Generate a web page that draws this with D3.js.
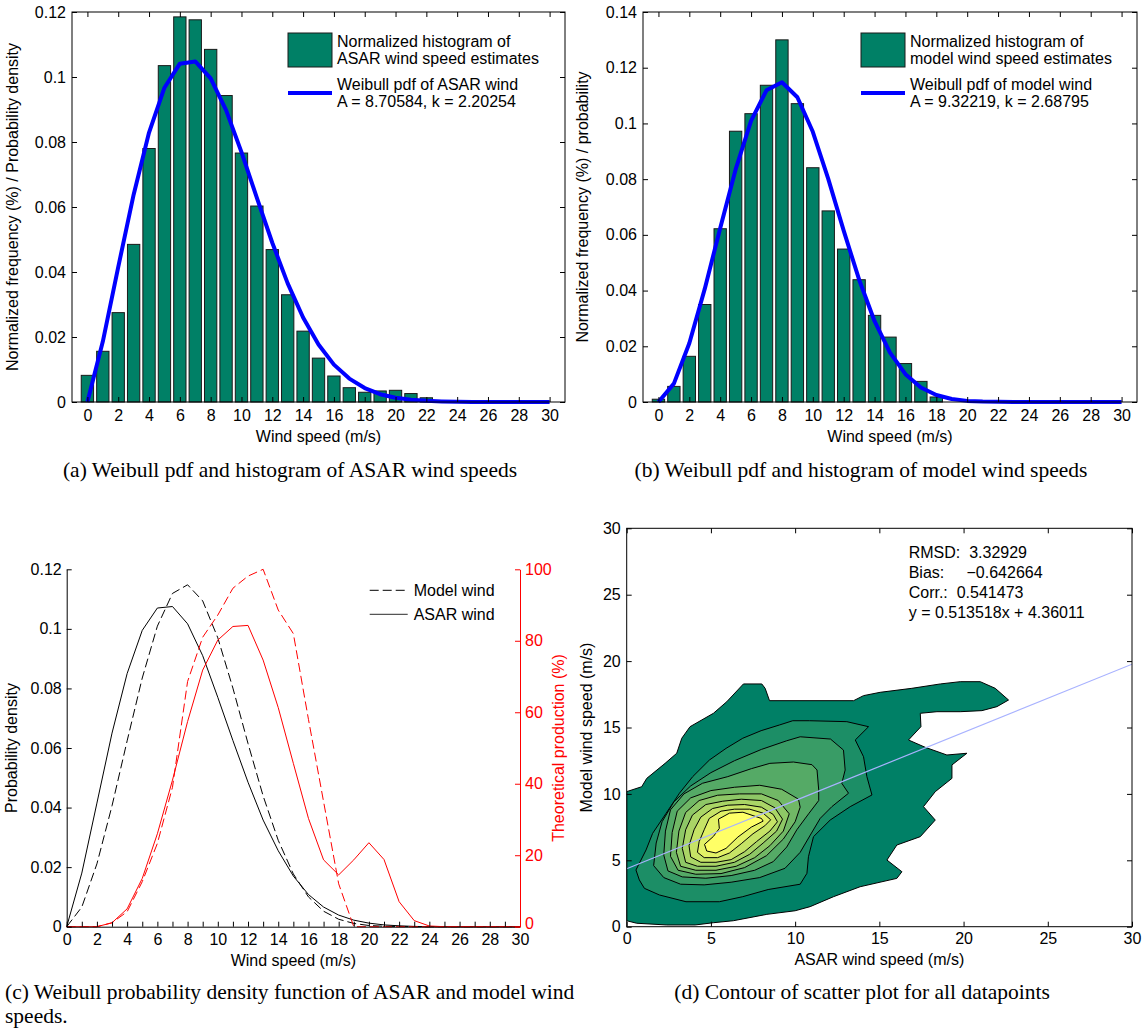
<!DOCTYPE html>
<html>
<head>
<meta charset="utf-8">
<script src="https://cdn.jsdelivr.net/npm/d3@7"></script>
<style>
body { margin: 0; background: #fff; }
svg text { font-family: "Liberation Sans", Arial, sans-serif; font-size: 16px; fill: #000; }
svg text.cap { font-family: "Liberation Serif", "Times New Roman", serif; font-size: 21.5px; }
</style>
</head>
<body>
<svg id="fig" width="1145" height="1032"></svg>
<script>
// ---- data ----
const speeds = d3.range(0, 31);

// (a) ASAR
const asarHist = [0.0082, 0.0156, 0.0275, 0.0485, 0.078, 0.1035, 0.1185, 0.1176, 0.1085, 0.0943, 0.0766, 0.0603,
  0.0469, 0.033, 0.0218, 0.0135, 0.008, 0.0044, 0.003, 0.0034, 0.0036, 0.0026, 0.0013];
const asarPdf = [0, 0.0186, 0.0415, 0.0638, 0.0829, 0.0967, 0.1041, 0.1048, 0.0996, 0.0898, 0.0769, 0.0628, 0.049,
  0.0365, 0.026, 0.0177, 0.0115, 0.0072, 0.0043, 0.0024, 0.0013, 0.0007, 0.00035, 0.00016, 0.00007, 0.00003, 0, 0, 0, 0, 0];

// (b) model
const modelHist = [0.001, 0.0056, 0.0164, 0.035, 0.0622, 0.0972, 0.1035, 0.1137, 0.13, 0.1071, 0.0841, 0.0686,
  0.0549, 0.0439, 0.0311, 0.0233, 0.0138, 0.0074, 0.0018];
const modelPdf = [0, 0.0066, 0.0211, 0.0406, 0.0624, 0.0835, 0.1009, 0.1119, 0.1148, 0.1094, 0.097, 0.0801, 0.0615,
  0.0439, 0.029, 0.0177, 0.01, 0.0052, 0.0025, 0.0011, 0.0004, 0.00016, 0.00005, 0, 0, 0, 0, 0, 0, 0, 0];

// (c) pdfs and theoretical production (%)
const asarPdfC = [0, 0.018, 0.0415, 0.065, 0.085, 0.0995, 0.107, 0.1075, 0.1017, 0.091, 0.077, 0.0625, 0.0485,
  0.0358, 0.0255, 0.017, 0.0108, 0.0066, 0.0039, 0.0022, 0.0012, 0.0006, 0.0003, 0.0001, 0, 0, 0, 0, 0, 0, 0];
const asarProd = [0, 0, 0, 1.1, 5, 13.5, 26, 41, 57.4, 71.8, 80.2, 84, 84.3, 74.6, 61.3, 45.7, 30.3, 18.7, 14.5,
  18.7, 23.5, 18.8, 7, 1.7, 0.2, 0, 0, 0, 0, 0, 0];
const modelProd = [0, 0, 0, 1.1, 4.2, 12.6, 23.3, 39, 68.6, 81, 87.2, 94.7, 98.1, 100, 88.6, 82, 58, 35, 12,
  0, 0, 0, 0, 0, 0, 0, 0, 0, 0, 0, 0];

// (d) filled contour levels, outer to inner, [ASAR, model] pairs
const contourLevels = [
  [[0,0.45],[0,10.17],[0.89,10.54],[1.19,11.17],[2.28,12.3],[2.97,13.06],[3.27,14.19],[3.76,15.06],[5.15,16.07],
   [5.94,16.94],[6.93,18.28],[8.02,18.28],[8.22,17.95],[8.48,17.02],[13.47,17.02],[14.06,17.4],[15.05,17.65],
   [16.93,17.95],[18.62,18.28],[19.8,18.45],[20.99,18.45],[21.88,17.95],[22.67,17.07],[21.98,16.57],[21.09,16.27],
   [19.8,16.19],[18.42,16.19],[17.43,16.07],[17.47,15.06],[16.73,14.06],[17.72,13.51],[19.01,12.93],[20.2,13.06],
   [19.31,12.18],[19.31,11.17],[18.32,10.17],[17.62,9.04],[18.32,8.03],[17.43,6.78],[16.04,6.15],[15.45,5.02],
   [16.34,4.14],[16.04,3.64],[13.86,3.01],[12.28,2.26],[10.89,1.51],[10,1.2],[8.32,0.93],[6.33,0.45],[5.15,0.3],
   [4.06,0.13],[2.38,0.13],[0.59,0.26]],
  [[0.55,4.27],[1.15,5.78],[1.54,7.03],[2.34,8.54],[3.13,10.05],[3.92,11.3],[4.91,12.55],[5.9,13.43],[6.89,14.19],
   [7.98,14.76],[9.07,15.19],[9.86,15.51],[10.85,15.51],[13.07,15.44],[14.36,15.06],[13.57,14.06],[14.06,12.8],
   [14.26,11.3],[14.56,9.92],[13.27,9.04],[12.08,8.03],[11.09,6.78],[10.79,5.27],[10.7,4.02],[10.3,3.2],[8.4,2.8],
   [6.89,2.26],[5.5,1.88],[3.52,1.88],[1.94,2.39],[1.05,2.89],[0.75,3.52]],
  [[1.6,4.6],[1.75,6.3],[2.1,7.9],[2.8,9.4],[3.8,10.6],[5.0,11.6],[6.4,12.5],[8.0,13.35],[9.5,14.0],[10.3,14.3],
   [12.1,14.13],[12.87,13.3],[12.97,11.8],[12.77,10.8],[13.17,10.05],[12.18,9.04],[11.49,8.16],[10.9,6.9],
   [10.3,5.6],[9.4,4.4],[7.9,3.7],[6.2,3.35],[4.6,3.15],[3.2,3.2],[2.2,3.7]],
  [[2.2,5.4],[2.3,7.2],[2.6,8.8],[3.4,10.0],[4.5,10.8],[6.0,11.3],[7.4,11.9],[8.5,12.3],[9.9,12.4],[11.0,12.2],
   [11.3,11.8],[11.4,10.3],[11.4,9.5],[10.8,8.5],[10.1,7.3],[9.5,6.0],[8.7,4.9],[7.6,4.25],[6.2,3.85],[4.7,3.65],
   [3.3,3.75],[2.45,4.2]],
  [[2.6,5.3],[2.7,7.1],[3.0,8.7],[3.8,9.7],[5.0,10.25],[6.4,10.5],[7.9,10.65],[9.2,10.35],[10.2,9.6],[10.3,9.0],
   [10.0,7.9],[9.3,6.6],[8.3,5.35],[7.0,4.45],[5.6,4.0],[4.1,3.95],[3.05,4.25]],
  [[2.95,5.6],[3.1,7.2],[3.5,8.6],[4.3,9.5],[5.4,9.9],[6.7,10.0],[8.0,10.0],[9.0,9.5],[9.65,8.5],[9.3,7.2],
   [8.5,6.1],[7.6,5.2],[6.5,4.55],[5.3,4.25],[4.1,4.25],[3.2,4.55]],
  [[3.3,5.9],[3.5,7.3],[3.9,8.4],[4.7,9.2],[5.7,9.45],[6.8,9.6],[8.0,9.5],[8.8,8.95],[9.25,8.1],[8.9,7.2],
   [8.1,6.3],[7.3,5.45],[6.4,4.85],[5.3,4.55],[4.2,4.55],[3.5,4.85]],
  [[3.7,6.1],[4.0,7.3],[4.4,8.25],[5.1,8.9],[6.0,9.15],[7.0,9.2],[8.0,9.0],[8.7,8.45],[8.95,7.9],[8.5,7.2],
   [7.7,6.4],[7.0,5.65],[6.2,5.05],[5.3,4.85],[4.4,4.85],[3.8,5.25]],
  [[4.2,5.6],[4.3,6.4],[4.6,7.3],[4.9,8.15],[5.6,8.7],[6.4,8.85],[7.3,8.85],[8.1,8.55],[8.55,8.05],[8.2,7.6],
   [7.5,7.0],[6.8,6.25],[6.1,5.55],[5.4,5.2],[4.6,5.2]],
  [[4.62,6.2],[5.15,6.8],[5.5,7.4],[5.45,8.1],[6.1,8.55],[6.9,8.62],[8.0,8.15],[8.1,7.95],[7.4,7.5],[6.6,6.75],
   [5.9,5.9],[5.3,5.55],[4.75,5.7]]
];
const fitSlope = 0.513518, fitIntercept = 4.36011;
const statsLines = ["RMSD:  3.32929", "Bias:     \u22120.642664", "Corr.:  0.541473", "y = 0.513518x + 4.36011"];

const histColor = "#008066";
const summer = d3.interpolateRgb("#008066", "#ffff66");

const svg = d3.select("#fig");

// axes with inward ticks; box adds top/right ticks and frame
function axes(g, x, y, w, h, xt, yt, xf, yf, box, xpad) {
  g.append("g").attr("transform", `translate(0,${h})`)
    .call(d3.axisBottom(x).tickValues(xt).tickFormat(xf).tickSizeInner(-5).tickSizeOuter(0).tickPadding(xpad || 8))
    .call(a => a.select(".domain").remove());
  g.append("g")
    .call(d3.axisLeft(y).tickValues(yt).tickFormat(yf).tickSizeInner(-5).tickSizeOuter(0).tickPadding(6))
    .call(a => a.select(".domain").remove());
  if (box) {
    g.append("g").call(d3.axisTop(x).tickValues(xt).tickFormat("").tickSizeInner(-5).tickSizeOuter(0))
      .call(a => a.select(".domain").remove());
    g.append("g").attr("transform", `translate(${w},0)`)
      .call(d3.axisRight(y).tickValues(yt).tickFormat("").tickSizeInner(-5).tickSizeOuter(0))
      .call(a => a.select(".domain").remove());
    g.append("rect").attr("width", w).attr("height", h).attr("fill", "none").attr("stroke", "#000");
  }
  g.selectAll(".tick line").attr("stroke", "#000");
}

const fmtY = d => String(+d.toFixed(2));

// histogram panel
function histPanel(pos, hist, pdf, yMax, yStep, yLabel, legendLines) {
  const g = svg.append("g").attr("transform", `translate(${pos.left},${pos.top})`);
  const x = d3.scaleLinear().domain([-1, 31]).range([0, pos.w]);
  const y = d3.scaleLinear().domain([0, yMax]).range([pos.h, 0]);

  g.append("g").selectAll("rect").data(hist).join("rect")
    .attr("x", (d, i) => x(speeds[i] - 0.4))
    .attr("width", x(0.8) - x(0))
    .attr("y", d => y(d))
    .attr("height", d => y(0) - y(d))
    .attr("fill", histColor).attr("stroke", "#1a1a1a").attr("stroke-width", 1);

  g.append("path").datum(pdf)
    .attr("d", d3.line().x((d, i) => x(speeds[i])).y(d => y(d)))
    .attr("fill", "none").attr("stroke", "#0000ff").attr("stroke-width", 4).attr("stroke-linejoin", "round");

  const yt = d3.range(0, yMax + 1e-9, yStep);
  axes(g, x, y, pos.w, pos.h, d3.range(0, 31, 2), yt, d => d, fmtY, true);

  g.append("text").attr("x", pos.w / 2).attr("y", pos.h + 40).attr("text-anchor", "middle").text("Wind speed (m/s)");
  g.append("text").attr("transform", `translate(${pos.ylabX},${pos.h / 2}) rotate(-90)`)
    .attr("text-anchor", "middle").text(yLabel);

  // legend
  const lg = g.append("g").attr("transform", `translate(${pos.legX},0)`);
  lg.append("rect").attr("x", 0).attr("y", 21).attr("width", 44).attr("height", 34)
    .attr("fill", histColor).attr("stroke", "#1a1a1a");
  lg.append("line").attr("x1", 0).attr("x2", 44).attr("y1", 81).attr("y2", 81)
    .attr("stroke", "#0000ff").attr("stroke-width", 4);
  legendLines.forEach((t, i) => {
    lg.append("text").attr("x", 49).attr("y", [35, 52, 78, 95][i]).text(t);
  });
}

histPanel({left: 72, top: 12, w: 493, h: 390, ylabX: -54, legX: 216}, asarHist, asarPdf, 0.12, 0.02,
  "Normalized frequency (%) / Probability density",
  ["Normalized histogram of", "ASAR wind speed estimates", "Weibull pdf of ASAR wind", "A = 8.70584, k = 2.20254"]);

histPanel({left: 643, top: 12, w: 494, h: 390, ylabX: -55, legX: 218}, modelHist, modelPdf, 0.14, 0.02,
  "Normalized frequency (%) / probability",
  ["Normalized histogram of", "model wind speed estimates", "Weibull pdf of model wind", "A = 9.32219, k = 2.68795"]);

// (c) pdfs with production on right axis
(() => {
  const pos = {left: 66.7, top: 569.3, w: 453.3, h: 357.4};
  const g = svg.append("g").attr("transform", `translate(${pos.left},${pos.top})`);
  const x = d3.scaleLinear().domain([0, 30]).range([0, pos.w]);
  const y = d3.scaleLinear().domain([0, 0.12]).range([pos.h, 0]);
  const y2 = d3.scaleLinear().domain([0, 100]).range([pos.h, 0]);

  const lineL = d3.line().x((d, i) => x(speeds[i])).y(d => y(d));
  const lineR = d3.line().x((d, i) => x(speeds[i])).y(d => y2(d));

  g.append("path").datum(asarPdfC).attr("d", lineL).attr("fill", "none").attr("stroke", "#000").attr("stroke-width", 1);
  g.append("path").datum(modelPdf).attr("d", lineL).attr("fill", "none").attr("stroke", "#000").attr("stroke-width", 1)
    .attr("stroke-dasharray", "9,4");
  g.append("path").datum(asarProd).attr("d", lineR).attr("fill", "none").attr("stroke", "#ff0000").attr("stroke-width", 1);
  g.append("path").datum(modelProd).attr("d", lineR).attr("fill", "none").attr("stroke", "#ff0000").attr("stroke-width", 1)
    .attr("stroke-dasharray", "9,4");

  g.append("g").attr("transform", `translate(0,${pos.h})`)
    .call(d3.axisBottom(x).tickValues(speeds).tickFormat(d => d % 2 ? "" : d).tickSizeInner(-5).tickSizeOuter(0).tickPadding(7))
    .call(a => a.select(".domain").attr("stroke", "#000"));
  g.append("g")
    .call(d3.axisLeft(y).tickValues(d3.range(0, 0.1201, 0.02)).tickFormat(fmtY).tickSizeInner(-5).tickSizeOuter(0).tickPadding(5))
    .call(a => a.select(".domain").attr("stroke", "#000"));
  const r = g.append("g").attr("transform", `translate(${pos.w},0)`)
    .call(d3.axisRight(y2).tickValues(d3.range(0, 101, 20)).tickSizeInner(-5).tickSizeOuter(0).tickPadding(5));
  r.select(".domain").attr("stroke", "#ff0000");
  r.selectAll(".tick line").attr("stroke", "#ff0000");
  r.selectAll("text").style("fill", "#ff0000");
  r.selectAll("text").filter(d => d === 0).attr("dy", "0.1em");
  g.selectAll(".tick line").filter(function () { return this.getAttribute("stroke") !== "#ff0000"; }).attr("stroke", "#000");

  g.append("text").attr("x", pos.w / 2).attr("y", pos.h + 39).attr("text-anchor", "middle").text("Wind speed (m/s)");
  g.append("text").attr("transform", `translate(-50,${pos.h / 2}) rotate(-90)`).attr("text-anchor", "middle")
    .text("Probability density");
  g.append("text").attr("transform", `translate(${pos.w + 44},${pos.h / 2}) rotate(-90)`).attr("text-anchor", "middle")
    .style("fill", "#ff0000").text("Theoretical production (%)");

  const lg = g.append("g").attr("transform", "translate(303,0)");
  lg.append("line").attr("x1", 0).attr("x2", 38).attr("y1", 21).attr("y2", 21).attr("stroke", "#000")
    .attr("stroke-dasharray", "9,4");
  lg.append("line").attr("x1", 0).attr("x2", 38).attr("y1", 45).attr("y2", 45).attr("stroke", "#555").attr("stroke-width", 1.3);
  lg.append("text").attr("x", 44).attr("y", 27).text("Model wind");
  lg.append("text").attr("x", 44).attr("y", 51).text("ASAR wind");
})();

// (d) contour of scatter
(() => {
  const pos = {left: 626.7, top: 528.3, w: 505.3, h: 398.4};
  const g = svg.append("g").attr("transform", `translate(${pos.left},${pos.top})`);
  const x = d3.scaleLinear().domain([0, 30]).range([0, pos.w]);
  const y = d3.scaleLinear().domain([0, 30]).range([pos.h, 0]);

  g.append("clipPath").attr("id", "clipd").append("rect").attr("width", pos.w).attr("height", pos.h);
  const cg = g.append("g").attr("clip-path", "url(#clipd)");
  const poly = d3.line().x(d => x(d[0])).y(d => y(d[1])).curve(d3.curveLinearClosed);
  cg.selectAll("path.lvl").data(contourLevels).join("path").attr("class", "lvl")
    .attr("d", poly)
    .attr("fill", (d, i) => summer(i / (contourLevels.length - 1)))
    .attr("stroke", "#000").attr("stroke-width", 1).attr("stroke-linejoin", "round");

  cg.append("line")
    .attr("x1", x(0)).attr("y1", y(fitIntercept))
    .attr("x2", x(30)).attr("y2", y(fitSlope * 30 + fitIntercept))
    .attr("stroke", "#a8b2ff").attr("stroke-width", 1.2);

  const t = d3.range(0, 31, 5);
  axes(g, x, y, pos.w, pos.h, t, t, d => d, d => d, true, 6);

  g.append("text").attr("x", pos.w / 2).attr("y", pos.h + 38).attr("text-anchor", "middle").text("ASAR wind speed (m/s)");
  g.append("text").attr("transform", `translate(-35,${pos.h / 2}) rotate(-90)`).attr("text-anchor", "middle")
    .text("Model wind speed (m/s)");

  statsLines.forEach((s, i) => {
    g.append("text").attr("x", 282).attr("y", 30 + i * 20).style("white-space", "pre").text(s);
  });
})();

// captions
svg.append("text").attr("class", "cap").attr("x", 290).attr("y", 477).attr("text-anchor", "middle")
  .text("(a) Weibull pdf and histogram of ASAR wind speeds");
svg.append("text").attr("class", "cap").attr("x", 861).attr("y", 477).attr("text-anchor", "middle")
  .text("(b) Weibull pdf and histogram of model wind speeds");
svg.append("text").attr("class", "cap").attr("x", 5).attr("y", 999)
  .text("(c) Weibull probability density function of ASAR and model wind");
svg.append("text").attr("class", "cap").attr("x", 5).attr("y", 1023).text("speeds.");
svg.append("text").attr("class", "cap").attr("x", 862).attr("y", 999).attr("text-anchor", "middle")
  .text("(d) Contour of scatter plot for all datapoints");
</script>
</body>
</html>
